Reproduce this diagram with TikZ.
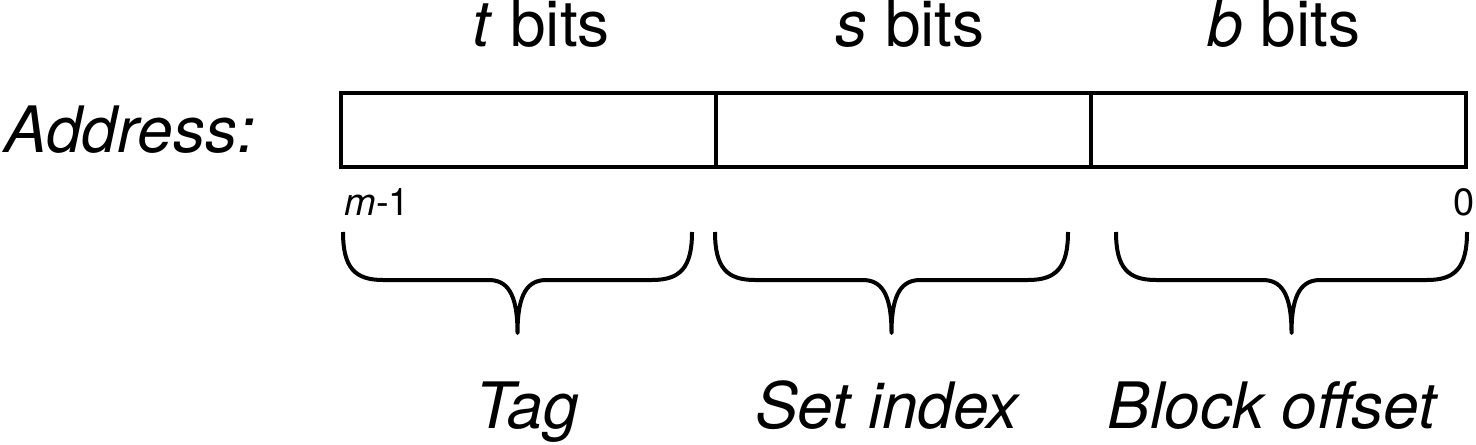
\documentclass[tikz,border=0pt]{standalone}
\usepackage{fontspec}
\setmainfont{TeX Gyre Heros}
\begin{document}
\begin{tikzpicture}[x=0.5pt,y=-0.5pt,
  cell/.style={draw, line width=2pt, minimum width=187.5pt, minimum height=37pt, inner sep=0pt},
  bigtxt/.style={inner sep=0pt, anchor=base, font=\fontsize{32}{38}\selectfont},
  smalltxt/.style={inner sep=0pt, anchor=base, font=\fontsize{19}{23}\selectfont},
  bracepath/.style={line width=2pt, line join=round}]
\useasboundingbox (0,0) rectangle (1476,444);
% address cells
\node[cell] (tagcell) at (528.5,130) {};
\node[cell] (setcell) at (903.5,130) {};
\node[cell] (offcell) at (1278.5,130) {};
% header labels
\node[bigtxt] (tbits) at (541,47) {\textit{t} bits};
\node[bigtxt] (sbits) at (910,47) {\textit{s} bits};
\node[bigtxt] (bbits) at (1284,47) {\textit{b} bits};
\node[bigtxt, anchor=base west] (addr) at (4,152) {\textit{Address:}};
% bit numbers
\node[smalltxt, anchor=base west] (msb) at (344,215) {\textit{m}-1};
\node[smalltxt, anchor=base east] (lsb) at (1475,215) {0};
% braces
\foreach \l/\r in {343/692, 715/1068, 1116/1467}{
  \pgfmathsetmacro{\m}{(\l+\r)/2}
  \draw[bracepath] (\l,232) .. controls (\l,268) and (\l+12,280) .. (\l+40,280)
    -- (\m-29,280) .. controls (\m-11,280) and (\m,292) .. (\m,333)
    .. controls (\m,292) and (\m+11,280) .. (\m+29,280)
    -- (\r-40,280) .. controls (\r-12,280) and (\r,268) .. (\r,232);
}
% field names
\node[bigtxt] (tagname) at (527,428) {\textit{Tag}};
\node[bigtxt] (setname) at (888,428) {\textit{Set index}};
\node[bigtxt] (offname) at (1273,428) {\textit{Block offset}};
\end{tikzpicture}
\end{document}
